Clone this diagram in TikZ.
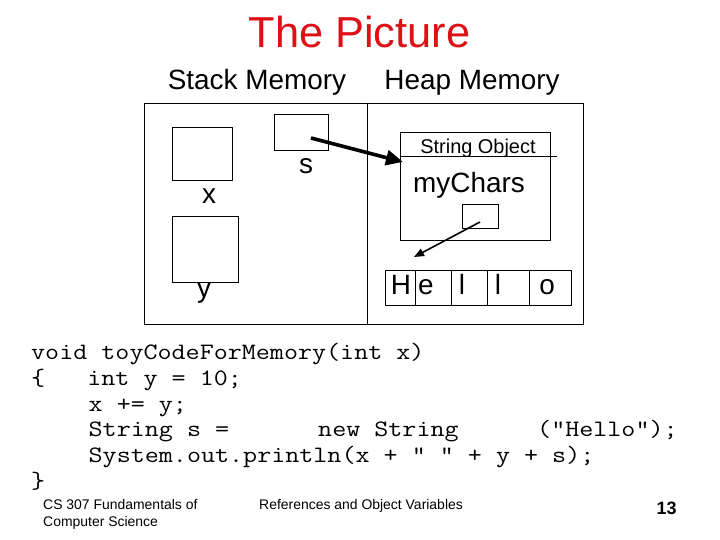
\documentclass[tikz,border=0pt]{standalone}
\usepackage{fontspec}
\setmainfont{Liberation Sans}
\usetikzlibrary{arrows.meta}
\definecolor{titlered}{RGB}{222,16,22}
\newcommand{\cl}[1]{\scalebox{1.16}[1]{#1}}
\begin{document}
\begin{tikzpicture}[x=1bp,y=-1bp,
  box/.style={draw=black,line width=0.9bp,inner sep=0pt,outer sep=0pt},
  lbl/.style={inner sep=0pt,anchor=base,font=\fontsize{28}{30}\selectfont},
  hdr/.style={inner sep=0pt,anchor=base,font=\fontsize{28}{30}\selectfont},
  code/.style={inner sep=0pt,anchor=base west,font=\ttfamily\fontsize{23.6}{26}\selectfont},
  foot/.style={inner sep=0pt,anchor=base west,font=\fontsize{14}{16}\selectfont},
  bigptr/.style={line width=3.6bp,-{Triangle[length=17bp,width=15bp]}},
  smallptr/.style={line width=1.6bp,-{Triangle[length=10bp,width=8bp]}}
]
\useasboundingbox (0,0) rectangle (720,540);
\fill[white] (0,0) rectangle (720,540);

% title and headers
\node[inner sep=0pt,anchor=base,text=titlered,font=\fontsize{43.5}{46}\selectfont] (title) at (359.5,48) {The Picture};
\node[hdr] (stackhdr) at (257,90) {Stack Memory};
\node[hdr] (heaphdr) at (472,90) {Heap Memory};

% memory frame
\node[box,minimum width=439bp,minimum height=221bp,anchor=north west] (frame) at (144,103) {};
\draw[line width=0.9bp] (367,103) coordinate (divtop) -- (367,324) coordinate (divbot);

% stack variables
\node[box,minimum width=60bp,minimum height=53bp] (xbox) at (202,153.5) {};
\node[lbl] (xlbl) at (209,204) {x};
\node[box,minimum width=66bp,minimum height=66bp] (ybox) at (205,249) {};
\node[lbl] (ylbl) at (204,297.5) {y};
\node[box,minimum width=54bp,minimum height=36bp] (sbox) at (301,132) {};
\node[lbl] (slbl) at (306,174) {s};

% string object
\node[box,minimum width=150bp,minimum height=108bp,anchor=north west] (obj) at (400,132) {};
\draw[line width=0.9bp] (obj.west |- 0,156) coordinate (hl) -- (557,156) coordinate (hr);
\node[inner sep=0pt,anchor=base,font=\fontsize{20}{22}\selectfont] (objtitle) at (478,154) {String Object};
\node[lbl] (mychars) at (469,193) {myChars};
\node[box,minimum width=36bp,minimum height=24bp] (cbox) at (480,216) {};

% char array
\node[box,minimum width=30bp,minimum height=35bp,anchor=north west] (c0) at (385,270) {};
\node[box,minimum width=36bp,minimum height=35bp,anchor=north west] (c1) at (415,270) {};
\node[box,minimum width=36bp,minimum height=35bp,anchor=north west] (c2) at (451,270) {};
\node[box,minimum width=42bp,minimum height=35bp,anchor=north west] (c3) at (487,270) {};
\node[box,minimum width=42bp,minimum height=35bp,anchor=north west] (c4) at (529,270) {};
\node[lbl] (h0) at (401,294) {H};
\node[lbl] (h1) at (426,294) {e};
\node[lbl] (h2) at (462,294) {l};
\node[lbl] (h3) at (498,294) {l};
\node[lbl] (h4) at (547,294) {o};

% pointers
\coordinate (sptr) at (311,138);
\coordinate (objin) at (403,162);
\draw[bigptr] (sptr) -- (objin);
\coordinate (cptr) at (480,222);
\coordinate (arrin) at (414,257);
\draw[smallptr] (cptr) -- (arrin);

% code
\node[code] (l1) at (31,359) {\cl{void toyCodeForMemory(int x)}};
\node[code] (l2) at (31,385) {\cl{\{\ \ \ int y = 10;}};
\node[code] (l3) at (88.5,411) {\cl{x += y;}};
\node[code] (l4a) at (88.5,436.5) {\cl{String s =}};
\node[code] (l4b) at (318,436.5) {\cl{new String}};
\node[code] (l4c) at (537,436.5) {\cl{("Hello");}};
\node[code] (l5) at (88.5,462) {\cl{System.out.println(x + " " + y + s);}};
\node[code] (l6) at (31,488) {\cl{\}}};

% footer
\node[foot] (f1) at (43,509) {CS 307 Fundamentals of};
\node[foot] (f2) at (43,526) {Computer Science};
\node[foot] (f3) at (259,509) {References and Object Variables};
\node[inner sep=0pt,anchor=base,font=\bfseries\fontsize{18}{20}\selectfont] (pg) at (666.5,514) {13};
\end{tikzpicture}
\end{document}
